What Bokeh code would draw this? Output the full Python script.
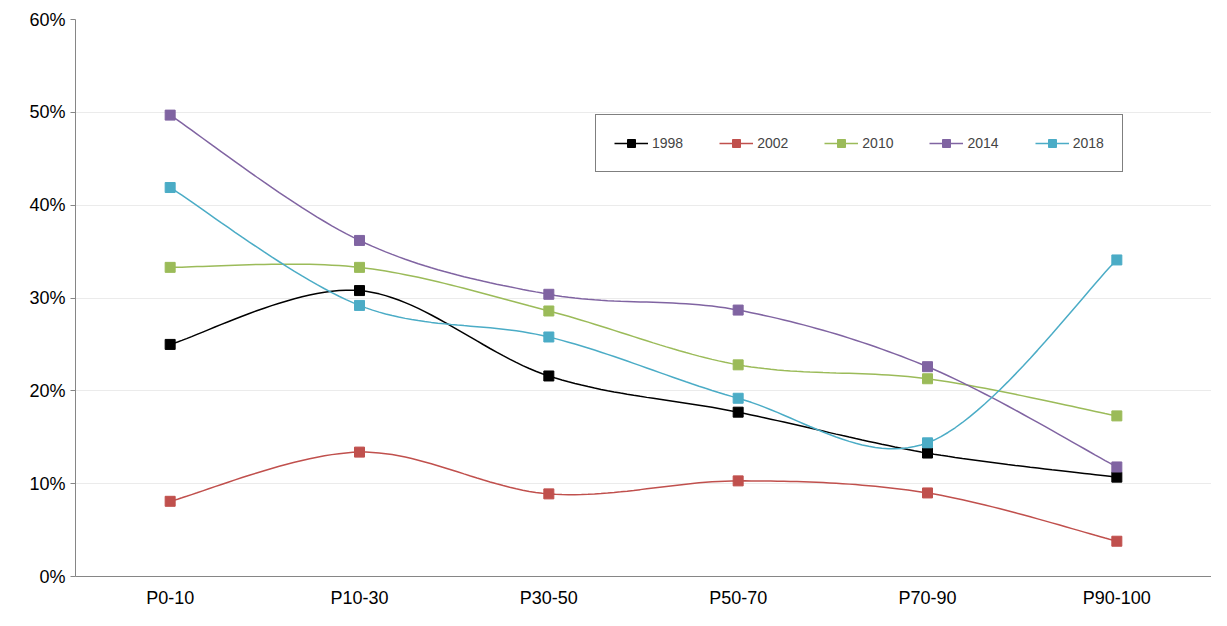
import numpy as np
from bokeh.plotting import figure
from bokeh.models import Legend, LegendItem, FixedTicker, Range1d
from bokeh.embed import file_html
from bokeh.resources import INLINE

categories = ["P0-10", "P10-30", "P30-50", "P50-70", "P70-90", "P90-100"]
s1998 = [25.0, 30.8, 21.6, 17.7, 13.3, 10.7]
s2002 = [8.1, 13.4, 8.9, 10.3, 9.0, 3.8]
s2010 = [33.3, 33.3, 28.6, 22.8, 21.3, 17.3]
s2014 = [49.7, 36.2, 30.4, 28.7, 22.6, 11.8]
s2018 = [41.9, 29.2, 25.8, 19.2, 14.4, 34.1]
series = [("1998", s1998, "#000000"), ("2002", s2002, "#C0504D"),
          ("2010", s2010, "#9BBB59"), ("2014", s2014, "#8064A2"),
          ("2018", s2018, "#4BACC6")]

xs = np.arange(len(categories)) + 0.5

def smooth(x, y, n=30):
    x = np.asarray(x, float); y = np.asarray(y, float)
    px = np.concatenate([[x[0]], x, [x[-1]]]); py = np.concatenate([[y[0]], y, [y[-1]]])
    ox, oy = [], []
    for i in range(1, len(px) - 2):
        p0 = np.array([px[i], py[i]]); p3 = np.array([px[i+1], py[i+1]])
        p1 = p0 + (np.array([px[i+1], py[i+1]]) - np.array([px[i-1], py[i-1]])) / 6
        p2 = p3 - (np.array([px[i+2], py[i+2]]) - np.array([px[i], py[i]])) / 6
        t = np.linspace(0, 1, n)[:, None]
        b = (1-t)**3*p0 + 3*(1-t)**2*t*p1 + 3*(1-t)*t**2*p2 + t**3*p3
        ox.extend(b[:, 0]); oy.extend(b[:, 1])
    return ox, oy

p = figure(width=1211, height=610, output_backend="svg", toolbar_location=None,
           x_range=Range1d(0, 6), y_range=Range1d(0, 60),
           min_border_left=75, min_border_right=0, min_border_top=19, min_border_bottom=31)
p.outline_line_color = None
p.xgrid.grid_line_color = None
p.ygrid.grid_line_color = "#EBEBEB"
p.yaxis.ticker = FixedTicker(ticks=list(range(0, 61, 10)))
p.yaxis.major_label_overrides = {v: f"{v}%" for v in range(0, 61, 10)}
p.xaxis.ticker = FixedTicker(ticks=list(xs))
p.xaxis.major_label_overrides = {float(x): c for x, c in zip(xs, categories)}
for ax in (p.xaxis, p.yaxis):
    ax.axis_line_color = "#868686"
    ax.major_tick_line_color = "#868686"
    ax.minor_tick_line_color = None
    ax.major_label_text_font = "Liberation Sans"
    ax.major_label_text_font_size = "18px"
    ax.major_label_text_color = "#000000"
p.xaxis.major_tick_line_color = None
p.yaxis.major_tick_in = 0
p.yaxis.major_tick_out = 5

items = []
for name, vals, col in series:
    sx, sy = smooth(xs, vals)
    l = p.line(sx, sy, line_color=col, line_width=1.5)
    m = p.scatter(xs, vals, marker="square", size=10, fill_color=col, line_color=col)
    items.append(LegendItem(label=name, renderers=[l, m]))

leg = Legend(items=items, orientation="horizontal", location=(520, 404),
             border_line_color="black", border_line_width=1.2,
             label_text_font="Liberation Sans", label_text_font_size="14px",
             padding=18, spacing=36, glyph_width=34, label_standoff=4,
             background_fill_alpha=1)
p.add_layout(leg, "center")

open("out.html", "w").write(file_html(p, INLINE))
